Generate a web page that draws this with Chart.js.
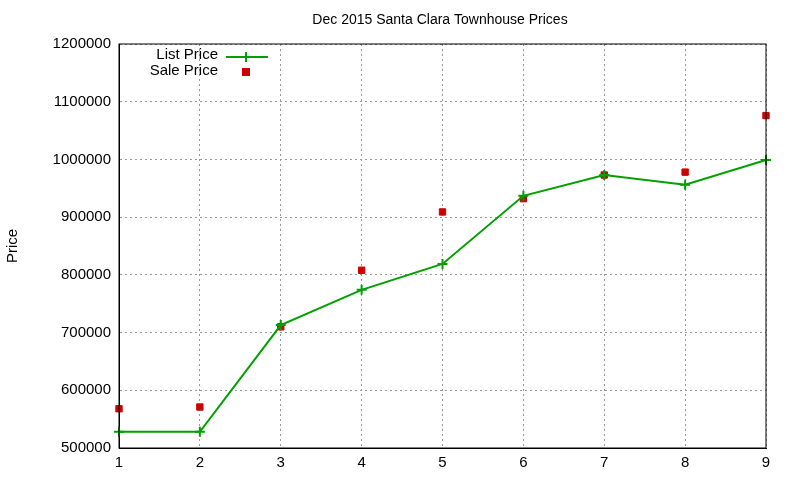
<!DOCTYPE html>
<html><head><meta charset="utf-8">
<script src="https://cdn.jsdelivr.net/npm/chart.js@4"></script>
<style>body{margin:0;background:#fff}#w{width:800px;height:480px}</style>
</head><body><div id="w"><canvas id="c"></canvas></div>
<script>
const months = [1,2,3,4,5,6,7,8,9];
const listPrice = [528000,528000,713000,774000,819000,937000,973000,956000,999000];
const salePrice = [568000,571000,710000,808000,909000,932000,973000,978000,1076000];
const yTicks = [500000,600000,700000,800000,900000,1000000,1100000,1200000];
const F = "'Liberation Sans', Arial, sans-serif";
const legendPlugin = {
  id:'lg',
  afterDraw(ch){
    const c=ch.ctx; c.save();
    c.font='15px '+F; c.fillStyle='#000'; c.textAlign='right'; c.textBaseline='middle';
    c.fillText('List Price',218,55); c.fillText('Sale Price',218,71);
    c.strokeStyle='#00a000'; c.lineWidth=2;
    c.beginPath(); c.moveTo(226,57); c.lineTo(268,57); c.moveTo(246,52); c.lineTo(246,62); c.moveTo(241,57); c.lineTo(251,57); c.stroke();
    c.fillStyle='#cc0000'; c.fillRect(242,68,8,8);
    c.fillStyle='#000'; c.textAlign='center'; c.font='14px '+F;
    c.fillText('Dec 2015 Santa Clara Townhouse Prices',440,20);
    c.restore();
  }
};
new Chart(document.getElementById('c'),{
  type:'line',
  data:{datasets:[
    {label:'List Price',data:months.map((m,i)=>({x:m,y:listPrice[i]})),borderColor:'#00a000',backgroundColor:'#00a000',borderWidth:2,pointStyle:'cross',pointRadius:5,pointBorderWidth:2,tension:0,clip:false},
    {label:'Sale Price',data:months.map((m,i)=>({x:m,y:salePrice[i]})),showLine:false,pointStyle:'rect',pointRadius:4.5,backgroundColor:'#cc0000',borderColor:'#cc0000',clip:false}
  ]},
  options:{responsive:true,maintainAspectRatio:false,animation:false,
    layout:{padding:{top:44,right:34,bottom:0,left:0}},
    plugins:{legend:{display:false},tooltip:{enabled:false}},
    scales:{
      x:{type:'linear',min:1,max:9,afterFit(s){s.height=32;},
        ticks:{stepSize:1,color:'#000',font:{family:F,size:15},padding:6},
        grid:{color:'#999',drawTicks:false},border:{color:'#000',width:1,dash:[2,3]}},
      y:{min:500000,max:1200000,afterFit(s){s.width=119;},
        afterBuildTicks(s){s.ticks=yTicks.map(v=>({value:v}));},
        ticks:{color:'#000',font:{family:F,size:15},padding:8,callback:v=>String(v)},
        title:{display:true,text:'Price',color:'#000',font:{family:F,size:15}},
        grid:{color:'#999',drawTicks:false},border:{color:'#000',width:1,dash:[2,3]}}
    }},
  plugins:[legendPlugin,{id:'box',afterDraw(ch){const a=ch.chartArea,c=ch.ctx;c.save();c.strokeStyle='#000';c.lineWidth=1;c.strokeRect(a.left,a.top,a.right-a.left,a.bottom-a.top);c.restore();}}]
});
</script></body></html>
